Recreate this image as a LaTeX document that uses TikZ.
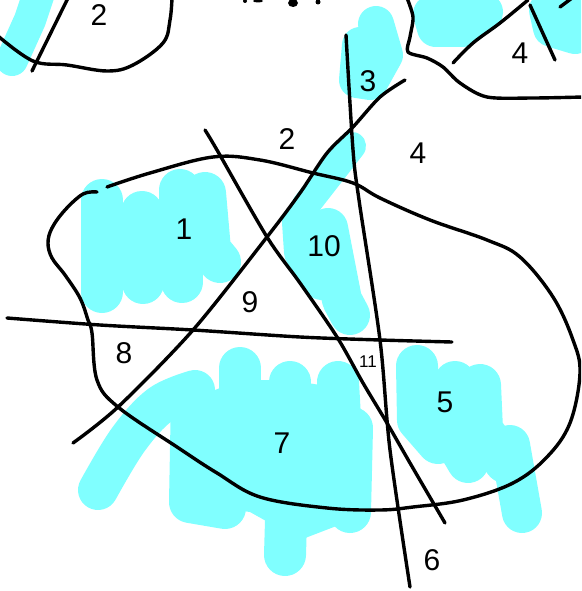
\documentclass[tikz,border=0pt]{standalone}
\usepackage{fontspec}
\setmainfont{Liberation Sans}
\definecolor{hlcyan}{RGB}{128,255,255}
\begin{document}
\begin{tikzpicture}[x=1pt,y=-1pt,
  ink/.style={line width=3.4pt,line cap=round,line join=round,black},
  hl/.style={line width=42pt,line cap=round,line join=round,hlcyan},
  hlfill/.style={fill=hlcyan,draw=none},
  lbl/.style={font=\fontsize{30}{30}\selectfont,inner sep=0pt},
  smalllbl/.style={font=\fontsize{17}{17}\selectfont,inner sep=0pt}]
\useasboundingbox (0,0) rectangle (581,591);
\clip (0,0) rectangle (581,591);
\fill[white] (0,0) rectangle (581,591);
% ---------- cyan highlights ----------
% top-left
\draw[hl,line width=32pt] (12,60) -- (30,20) -- (40,-10);
% top right blobs
\draw[hl,line width=38pt] (432,14) -- (436,28) -- (462,28) -- (484,12) -- (450,8);
\draw[hl,line width=38pt] (548,10) -- (552,28) -- (575,35) -- (581,10);
% region 3
\draw[hl,line width=36pt] (376,24) -- (385,55) -- (370,82) -- (357,80) -- (360,45);
% region 1
\fill[hlfill] (102,205) -- (210,195) -- (215,262) -- (182,285) -- (102,292) -- cycle;
\draw[hl] (102,200) -- (102,292);
\draw[hl] (142,212) -- (143,283);
\draw[hl] (180,190) -- (182,282);
\draw[hl] (205,193) -- (210,250) -- (220,262);
% region 10
\draw[hl,line width=28pt] (352,146) -- (306,205);
\draw[hl,line width=40pt] (302,222) -- (304,252) -- (322,280);
\draw[hl,line width=40pt] (328,228) -- (342,300) -- (350,315);
\fill[hlfill] (300,215) -- (335,212) -- (345,300) -- (320,300) -- (300,260) -- cycle;
% region 5
\fill[hlfill] (416,365) -- (480,380) -- (495,420) -- (515,450) -- (500,470) -- (455,462) -- (420,432) -- cycle;
\draw[hl] (417,366) -- (418,420) -- (438,443);
\draw[hl] (455,382) -- (455,440) -- (468,462);
\draw[hl] (480,385) -- (482,430) -- (505,462);
\draw[hl,line width=40pt] (510,445) -- (522,513);
% region 7
\fill[hlfill] (190,400) -- (240,380) -- (290,380) -- (350,390) -- (352,520) -- (300,540) -- (250,512) -- (200,505) -- cycle;
\draw[hl,line width=40pt] plot[smooth,tension=0.6] coordinates {(98,490) (128,440) (160,405) (195,390)};
\draw[hl] (192,395) -- (190,502) -- (225,508);
\draw[hl] (240,368) -- (240,470);
\draw[hl] (290,382) -- (285,555);
\draw[hl] (338,382) -- (345,508);
\draw[hl] (352,428) -- (350,512);
% ---------- black ink ----------
% top-left circle and line
\draw[ink] plot[smooth,tension=0.6] coordinates {(-2,36) (33,61) (67,65) (107,71) (133,65) (163,43) (170,20) (172,-2)};
\draw[ink] (32,71) -- (68,-2);
% top fragment of cut-off text
\fill (245,1) circle (2pt);
\fill (258,1) ellipse (5pt and 1.5pt);
\fill (293,3) ellipse (5pt and 4pt);
\fill (318,2) circle (2.5pt);
% top-right shape
\draw[ink] plot[smooth,tension=0.5] coordinates {(407,-2) (413,17) (410,37) (408,52) (427,58) (443,67) (460,83) (487,97) (533,98) (583,97)};
\draw[ink] plot[smooth,tension=0.6] coordinates {(453,63) (473,43) (500,23) (528,0)};
\draw[ink] (530,5) -- (555,60);
\draw[ink] (560,7) -- (572,-2);
% big closed blob (open gap at top-left)
\draw[ink] plot[smooth,tension=0.6] coordinates {(107,187) (150,173) (213,157) (260,160) (313,173) (353,183) (380,198) (430,220) (487,240) (520,257) (553,297) (573,340) (580,373) (570,423) (547,457) (513,483) (463,500) (413,507) (380,510) (327,508) (260,497) (217,473) (177,447) (118,407) (97,380) (92,333) (88,320) (80,298) (65,275) (52,258) (48,243) (52,228) (65,210) (83,194) (97,192)};
% vertical line 3-6
\draw[ink] plot[smooth,tension=0.5] coordinates {(346,35) (353,150) (359,200) (380,340) (390,450) (410,587)};
% diagonal from 3 down-left
\draw[ink] plot[smooth,tension=0.5] coordinates {(405,80) (380,97) (353,127) (327,153) (300,193) (267,237) (193,330) (118,407) (73,443)};
% diagonal from top down-right
\draw[ink] plot[smooth,tension=0.5] coordinates {(205,130) (217,150) (267,237) (300,283) (337,337) (363,383) (387,423) (410,463) (445,523)};
% horizontal line
\draw[ink] plot[smooth,tension=0.5] coordinates {(7,318) (100,325) (193,330) (300,337) (380,340) (452,342)};
% ---------- labels ----------
\node[lbl] (tl2) at (99,15) {2};
\node[lbl] (t3) at (368,81) {3};
\node[lbl] (tr4) at (520,53) {4};
\node[lbl] (m2) at (287,139) {2};
\node[lbl] (m4) at (418,153) {4};
\node[lbl] (r1) at (184,229) {1};
\node[lbl] (r9) at (250,302) {9};
\node[lbl] (r10) at (324,246) {10};
\node[lbl] (r8) at (124,353) {8};
\node[smalllbl] (r11) at (368,362) {11};
\node[lbl] (r5) at (445,402) {5};
\node[lbl] (r7) at (282,443) {7};
\node[lbl] (r6) at (432,560) {6};
\end{tikzpicture}
\end{document}
